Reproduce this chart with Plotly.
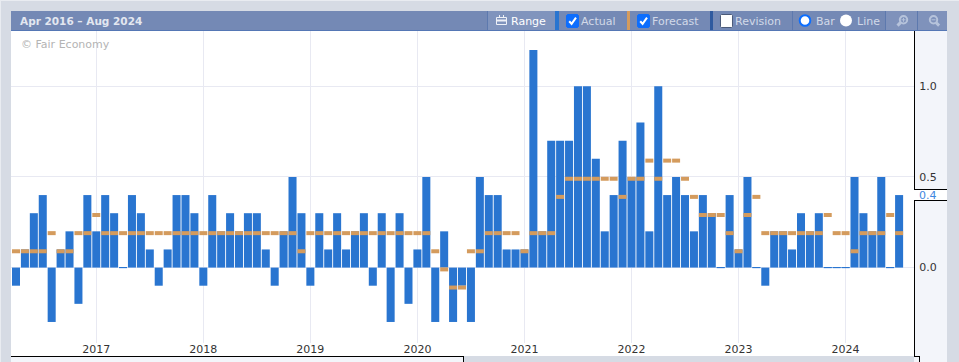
import plotly.graph_objects as go

months = [f"{y}-{m:02d}" for y in range(2016, 2025) for m in range(1, 13)][3:103]
actual = [-0.1,0.1,0.3,0.4,-0.3,0.1,0.2,-0.2,0.4,
          0.2,0.4,0.3,0.0,0.4,0.3,0.1,-0.1,0.1,0.4,0.4,0.3,
          -0.1,0.4,0.2,0.3,0.2,0.3,0.3,0.1,-0.1,0.2,0.5,0.3,
          -0.1,0.3,0.1,0.3,0.1,0.2,0.3,-0.1,0.3,-0.3,0.3,-0.2,
          0.1,0.5,-0.3,0.2,-0.3,-0.1,-0.3,0.5,0.4,0.4,0.1,0.1,
          0.1,1.2,0.2,0.7,0.7,0.7,1.0,1.0,0.6,0.2,0.4,0.7,
          0.5,0.8,0.2,1.0,0.4,0.5,0.4,0.2,0.4,0.3,0.0,0.4,
          0.1,0.5,0.0,-0.1,0.2,0.2,0.1,0.3,0.2,0.3,0.0,0.0,
          0.0,0.5,0.3,0.2,0.5,0.0,0.4]
forecast = [0.1,0.1,0.1,0.1,0.2,0.1,0.1,0.2,0.2,
            0.3,0.2,0.2,0.2,0.2,0.2,0.2,0.2,0.2,0.2,0.2,0.2,
            0.2,0.2,0.2,0.2,0.2,0.2,0.2,0.2,0.2,0.2,0.2,0.1,
            0.2,0.2,0.2,0.2,0.2,0.2,0.2,0.2,0.2,0.2,0.2,0.2,
            0.2,0.2,0.1,0.0,-0.1,-0.1,0.1,0.1,0.2,0.2,0.2,0.2,
            0.1,0.2,0.2,0.2,0.4,0.5,0.5,0.5,0.5,0.5,0.5,0.4,
            0.5,0.5,0.6,0.5,0.6,0.6,0.5,0.4,0.3,0.3,0.3,0.2,
            0.1,0.3,0.4,0.2,0.2,0.2,0.2,0.2,0.2,0.2,0.3,0.2,
            0.2,0.1,0.2,0.2,0.2,0.3,0.2]
year_ticks = ["2017-01","2018-01","2019-01","2020-01","2021-01","2022-01","2023-01","2024-01"]
year_labels = ["2017","2018","2019","2020","2021","2022","2023","2024"]
y_ticks = [0, 0.5, 1.0]
title_text = "Apr 2016 \u2013 Aug 2024"
copyright_text = "\u00a9 Fair Economy"
latest_value = "0.4"

W, H = 959, 362
L, T, R, B = 11, 31, 914, 343
FONT = "DejaVu Sans"
Y_RANGE = [-0.416, 1.305]
DASH_SHIFT = 0.01

def X(p): return (p - L) / (R - L)
def Y(p): return 1 - (p - T) / (B - T)

shapes = []
def rect(x0, y0, x1, y1, fill, layer="below"):
    shapes.append(dict(type="rect", xref="paper", yref="paper", x0=X(x0), x1=X(x1), y0=Y(y0), y1=Y(y1),
                       fillcolor=fill, line_width=0, layer=layer))
def line(x0, y0, x1, y1, color="#000000", width=1, layer="above"):
    shapes.append(dict(type="line", xref="paper", yref="paper", x0=X(x0), x1=X(x1), y0=Y(y0), y1=Y(y1),
                       line=dict(color=color, width=width), layer=layer))
def circle(cx, cy, r, fill, stroke=None, width=0):
    shapes.append(dict(type="circle", xref="paper", yref="paper", x0=X(cx-r), x1=X(cx+r), y0=Y(cy-r), y1=Y(cy+r),
                       fillcolor=fill, line=dict(color=stroke or fill, width=width), layer="above"))
def path(pts, color, width=2, fill=None, close=False):
    d = "M" + " L".join(f"{X(a):.5f},{Y(b):.5f}" for a, b in pts) + (" Z" if close else "")
    shapes.append(dict(type="path", xref="paper", yref="paper", path=d, fillcolor=fill,
                       line=dict(color=color, width=width), layer="above"))

annotations = []
def text(x, y, s, color, size=11, bold=False, anchor="left"):
    annotations.append(dict(xref="paper", yref="paper", x=X(x - 1), y=Y(y), text=f"<b>{s}</b>" if bold else s,
                            showarrow=False, xanchor=anchor, yanchor="middle", borderpad=0,
                            font=dict(family=FONT, size=size, color=color)))

GRAY, PANEL = "#d6dbe4", "#f3f5fa"
HEAD, HEAD2, SEP = "#7489b5", "#7f92bb", "#5d79ae"
# frame
rect(0, 0, W, 1, "#e9ecf1", "below"); rect(0, 0, 1, H, "#e9ecf1", "below")
rect(L, 343, 914, 356, "#ffffff")
rect(R, T, 947, H, PANEL)
rect(11, 356, 463, H, PANEL)
rect(R, 189, 947, 200, "#ffffff")
line(11, 356.5, 463, 356.5); line(463.5, 356, 463.5, H)
line(914, 356.5, 919, 356.5); line(914.5, T, 914.5, 189.5); line(914.5, 200, 914.5, 357)
line(919.5, 356, 919.5, H); line(914, 189.5, 947, 189.5); line(914, 200.5, 947, 200.5)
# header
rect(11, 11, 947, 30.5, HEAD, "above")
rect(488, 11, 555, 30.5, "#8094bd", "above")
rect(885, 11, 947, 30.5, HEAD2, "above")
rect(11, 30, 947, 31, "#5577b5", "above")
for sx in (487.5, 792.5, 885.5, 917.5):
    line(sx, 11, sx, 30, SEP)
rect(555, 11, 559, 30, "#2975d0", "above")
rect(627, 11, 630, 30, "#d49b5d", "above")
rect(710, 11, 713, 30, "#2f5a9f", "above")
text(20, 21, title_text, "#e3e7f0", 10.5, True)
# Range
path([(496.5,17.5),(506.5,17.5),(506.5,24.5),(496.5,24.5)], "#eef1f7", 1, close=True)
line(496.5, 20.5, 506.5, 20.5, "#eef1f7", 2)
line(499.5, 15, 499.5, 18, "#eef1f7", 1); line(503.5, 15, 503.5, 18, "#eef1f7", 1)
text(511, 21, "Range", "#ffffff", 11, False)
# checkboxes
def checkbox(x, on):
    path([(x+1.5,14.5),(x+11.5,14.5),(x+12.5,15.5),(x+12.5,26.5),(x+11.5,27.5),(x+1.5,27.5),(x+0.5,26.5),(x+0.5,15.5)],
         "#0d6efd" if on else "#4b5a78", 1, "#0d6efd" if on else "#ffffff", True)
    if on:
        path([(x+3.2,21.2),(x+5.6,23.8),(x+10,17.6)], "#ffffff", 2)
checkbox(566, True); text(581, 21, "Actual", "#d2d9e8")
checkbox(637, True); text(652, 21, "Forecast", "#d2d9e8")
checkbox(720, False); text(735, 21, "Revision", "#d2d9e8")
# radios
circle(805, 20.5, 5.3, "#ffffff", "#0d6efd", 2); text(816, 21, "Bar", "#d2d9e8")
circle(846, 20.5, 6, "#ffffff"); text(857, 21, "Line", "#d2d9e8")
# zoom icons
ICON = "#b6c3db"
for cx, plus in ((902.5, True), (932.5, False)):
    circle(cx + 1, 19.8, 3.7, "rgba(0,0,0,0)", ICON, 2)
    path([(cx+ (3.6 if not plus else -2), 22.6),(cx+(6.6 if not plus else -5),25.6)], ICON, 3)
    line(cx-1, 19.8, cx+3, 19.8, ICON, 1)
    if plus:
        line(cx+1, 17.8, cx+1, 21.8, ICON, 1)

text(21, 44.5, copyright_text, "#b4b4b4")
text(919, 195, latest_value, "#3f87e0")

fig = go.Figure()
fig.add_trace(go.Bar(
    x=months, y=actual, name="Actual", yaxis="y",
    marker=dict(color="#2975d0", line=dict(color="#2975d0", width=[1 if v == 0 else 0 for v in actual])),
))
fig.add_trace(go.Scatter(
    x=months, y=forecast, name="Forecast", mode="markers", yaxis="y2",
    marker=dict(symbol="line-ew", size=5.7, line=dict(color="#d49b5d", width=4)),
))
fig.update_layout(
    width=W, height=H, margin=dict(l=L, t=T, r=W - R, b=H - B, autoexpand=False),
    paper_bgcolor=GRAY, plot_bgcolor="#ffffff", showlegend=False, bargap=0.1,
    font=dict(family=FONT, size=11, color="#333333"),
    shapes=shapes, annotations=annotations,
    xaxis=dict(type="category", categoryorder="array", categoryarray=months, automargin=False,
               range=[-0.56, 100.67], tickmode="array", tickvals=year_ticks, ticktext=year_labels,
               showgrid=True, gridcolor="#e8e9f2", gridwidth=1, ticks="", ticklen=0, showline=False,
               zeroline=False, ticklabelstandoff=-2, tickfont=dict(family=FONT, size=11, color="#333333")),
    yaxis=dict(range=Y_RANGE, side="right", tickmode="array", tickvals=y_ticks, tickformat=".1f", automargin=False,
               showgrid=True, gridcolor="#e8e9f2", gridwidth=1, zeroline=True, zerolinecolor="#e8e9f2",
               zerolinewidth=1, ticks="outside", ticklen=2, tickcolor="rgba(0,0,0,0)", showline=False,
               tickfont=dict(family=FONT, size=11, color="#333333")),
    yaxis2=dict(range=[Y_RANGE[0] + DASH_SHIFT, Y_RANGE[1] + DASH_SHIFT], overlaying="y", side="right",
                visible=False, automargin=False),
)
fig.write_html("out.html", config=dict(displayModeBar=False),
               post_script="document.body.style.margin='0';document.body.style.overflow='hidden';document.documentElement.style.overflow='hidden';")
